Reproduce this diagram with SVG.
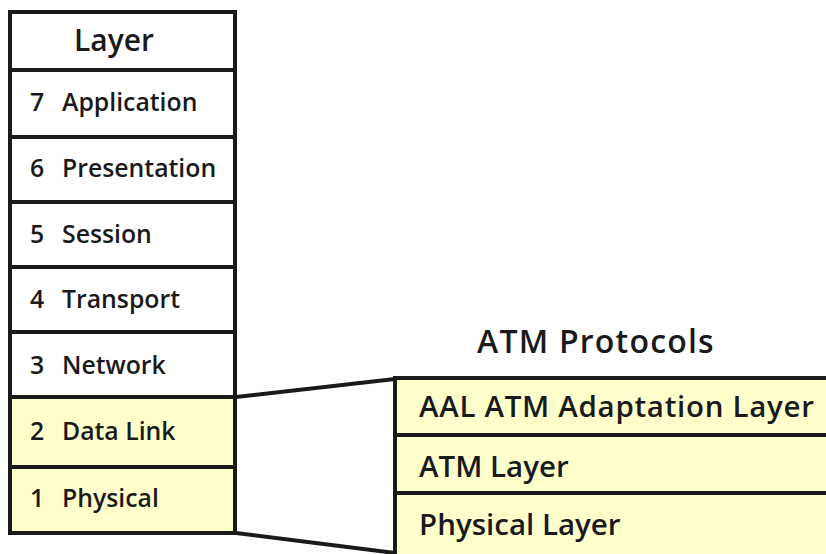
<svg xmlns="http://www.w3.org/2000/svg" width="826" height="554" viewBox="0 0 826 554">
<style>
.box{stroke:#1a1a1a;stroke-width:4;}
.w{fill:#ffffff;}
.y{fill:#ffffcc;}
.t{font-family:"Open Sans","Noto Sans",sans-serif;font-weight:600;fill:#1a1a1a;font-size:24.8px;}
.h{font-size:30px;}
.p{font-size:32px;letter-spacing:1.2px;}
.r{font-size:29.5px;}
.c{fill:none;stroke:#1a1a1a;stroke-width:4;}
</style>
<rect width="826" height="554" fill="#ffffff"/>
<g id="connectors">
<line class="c" x1="236" y1="397" x2="395" y2="379"/>
<line class="c" x1="236" y1="533" x2="395" y2="553"/>
</g>
<g id="layer-header"><rect class="box w" x="10" y="12" width="225" height="58"/><text class="t h" x="114" y="51" text-anchor="middle">Layer</text></g>
<g id="l7"><rect class="box w" x="10" y="70" width="225" height="67"/><text class="t" x="30" y="111">7</text><text class="t" x="62" y="111">Application</text></g>
<g id="l6"><rect class="box w" x="10" y="137" width="225" height="65"/><text class="t" x="30" y="177">6</text><text class="t" x="62" y="177">Presentation</text></g>
<g id="l5"><rect class="box w" x="10" y="202" width="225" height="65"/><text class="t" x="30" y="243">5</text><text class="t" x="62" y="243">Session</text></g>
<g id="l4"><rect class="box w" x="10" y="267" width="225" height="65"/><text class="t" x="30" y="308">4</text><text class="t" x="62" y="308">Transport</text></g>
<g id="l3"><rect class="box w" x="10" y="332" width="225" height="65"/><text class="t" x="30" y="374">3</text><text class="t" x="62" y="374">Network</text></g>
<g id="l2"><rect class="box y" x="10" y="397" width="225" height="70"/><text class="t" x="30" y="440">2</text><text class="t" x="62" y="440">Data Link</text></g>
<g id="l1"><rect class="box y" x="10" y="467" width="225" height="66"/><text class="t" x="30" y="507">1</text><text class="t" x="62" y="507">Physical</text></g>
<g id="atm-title"><text class="t p" x="596" y="353" text-anchor="middle">ATM Protocols</text></g>
<g id="aal"><rect class="box y" x="395" y="378" width="440" height="57"/><text class="t r" x="419" y="417" style="letter-spacing:0.7px">AAL ATM Adaptation Layer</text></g>
<g id="atm"><rect class="box y" x="395" y="435" width="440" height="58"/><text class="t r" x="419" y="477">ATM Layer</text></g>
<g id="phy"><rect class="box y" x="395" y="493" width="440" height="70"/><text class="t r" x="419" y="535">Physical Layer</text></g>
</svg>
